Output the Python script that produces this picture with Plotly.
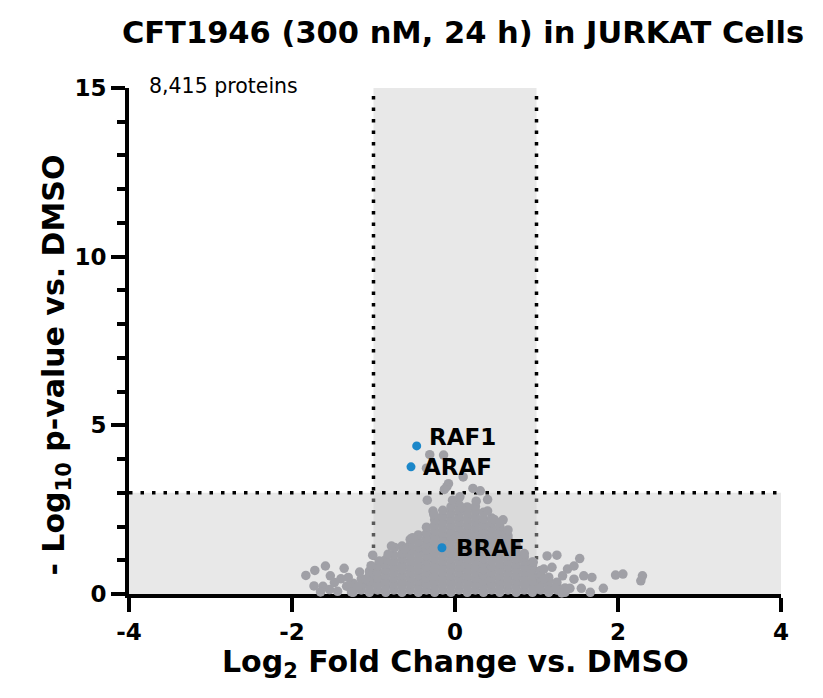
import plotly.graph_objects as go

# ---------------- data ----------------
# dense core of the cloud: column centres and the -log10 p values in each column
core_x = [-1.25, -1.15, -1.05, -0.95, -0.85, -0.75, -0.65, -0.55, -0.45, -0.35,
          -0.25, -0.15, -0.05, 0.05, 0.15, 0.25, 0.35, 0.45, 0.55, 0.65,
          0.75, 0.85, 0.95, 1.05, 1.15, 1.25, 1.35]
core_y = [
    [0.05, 0.2, 0.32],
    [0.12, 0.28, 0.45],
    [0.05, 0.22, 0.38, 0.55, 0.68],
    [0.12, 0.3, 0.47, 0.64, 0.82],
    [0.05, 0.22, 0.38, 0.55, 0.72, 0.88, 1.02],
    [0.12, 0.3, 0.47, 0.64, 0.8, 0.97, 1.15],
    [0.05, 0.22, 0.38, 0.55, 0.72, 0.88, 1.05, 1.2, 1.42],
    [0.12, 0.3, 0.47, 0.64, 0.8, 0.97, 1.14, 1.3, 1.46, 1.62],
    [0.05, 0.22, 0.38, 0.55, 0.72, 0.88, 1.05, 1.22, 1.38, 1.55, 1.75],
    [0.12, 0.3, 0.47, 0.64, 0.8, 0.97, 1.14, 1.3, 1.47, 1.64, 1.8, 1.98],
    [0.05, 0.22, 0.38, 0.55, 0.72, 0.88, 1.05, 1.22, 1.38, 1.55, 1.72, 1.88, 2.05, 2.2, 2.32],
    [0.12, 0.3, 0.47, 0.64, 0.8, 0.97, 1.14, 1.3, 1.47, 1.64, 1.8, 1.97, 2.14, 2.3, 2.48],
    [0.05, 0.22, 0.38, 0.55, 0.72, 0.88, 1.05, 1.22, 1.38, 1.55, 1.72, 1.88, 2.05, 2.22, 2.4, 2.58],
    [0.12, 0.3, 0.47, 0.64, 0.8, 0.97, 1.14, 1.3, 1.47, 1.64, 1.8, 1.97, 2.14, 2.3, 2.47, 2.64],
    [0.05, 0.22, 0.38, 0.55, 0.72, 0.88, 1.05, 1.22, 1.38, 1.55, 1.72, 1.88, 2.05, 2.22, 2.4, 2.58],
    [0.12, 0.3, 0.47, 0.64, 0.8, 0.97, 1.14, 1.3, 1.47, 1.64, 1.8, 1.97, 2.14, 2.3, 2.47, 2.6],
    [0.05, 0.22, 0.38, 0.55, 0.72, 0.88, 1.05, 1.22, 1.38, 1.55, 1.72, 1.88, 2.05, 2.22, 2.42],
    [0.12, 0.3, 0.47, 0.64, 0.8, 0.97, 1.14, 1.3, 1.47, 1.64, 1.8, 1.97, 2.12, 2.25],
    [0.05, 0.22, 0.38, 0.55, 0.72, 0.88, 1.05, 1.22, 1.38, 1.55, 1.72, 1.88, 2.0],
    [0.12, 0.3, 0.47, 0.64, 0.8, 0.97, 1.14, 1.3, 1.47, 1.62, 1.72],
    [0.05, 0.22, 0.38, 0.55, 0.72, 0.88, 1.05, 1.22, 1.35, 1.45],
    [0.12, 0.3, 0.47, 0.64, 0.8, 0.97, 1.1, 1.2],
    [0.05, 0.22, 0.38, 0.55, 0.72, 0.85, 0.95],
    [0.12, 0.3, 0.47, 0.6, 0.7],
    [0.05, 0.22, 0.38, 0.5],
    [0.12, 0.25, 0.35],
    [0.05, 0.18],
]

# scattered proteins around the core
edge_x = [-1.83, -1.72, -1.59, -1.73, -1.62, -1.53, -1.48, -1.54, -1.36, -1.31,
          -1.33, -1.17, -1.19, -1.09, -1.03, -1.01, -1.65, -1.44, -1.27, -1.40,
          -0.93, -0.82, -0.74, -0.62, -0.78, -0.52,
          -0.31, -0.14, -0.35, -0.08, -0.10, -0.13, 0.10, 0.22, 0.31, 0.40,
          0.06, -0.03, -0.34, 0.26, 0.08, 0.40, -0.27, -0.26, 0.48, 0.59,
          0.55, 0.52, 0.62, 0.65,
          0.96, 1.13, 1.25, 1.53, 1.19, 1.38, 1.46, 1.32, 1.46, 1.58,
          1.68, 1.09, 1.09, 1.23, 1.31, 1.41, 1.55, 1.66, 1.82, 1.97,
          2.06, 2.30, 2.28, 1.04]
edge_y = [0.55, 0.70, 0.83, 0.24, 0.23, 0.54, 0.34, 0.13, 0.76, 0.49,
          0.23, 0.65, 0.23, 0.44, 0.84, 1.15, 0.06, 0.08, 0.06, 0.45,
          0.98, 1.18, 1.38, 1.33, 1.42, 1.67,
          4.13, 4.12, 3.73, 3.27, 3.18, 3.10, 3.47, 3.13, 3.06, 2.80,
          2.88, 2.78, 2.78, 2.75, 2.56, 2.46, 2.46, 2.36, 2.21, 2.20,
          2.12, 1.77, 1.77, 1.90,
          0.94, 1.13, 1.15, 1.05, 0.79, 0.74, 0.83, 0.54, 0.44, 0.54,
          0.49, 0.44, 0.74, 0.17, 0.03, 0.17, 0.17, 0.05, 0.17, 0.56,
          0.59, 0.54, 0.39, 0.17]

# highlighted RAF family members
raf_names = ["RAF1", "ARAF", "BRAF"]
raf_x = [-0.47, -0.54, -0.16]
raf_y = [4.39, 3.77, 1.37]
raf_label_x = [-0.345, -0.415, -0.015]
raf_label_y = [4.66, 3.77, 1.35]

x_ticks = [-4, -2, 0, 2, 4]
y_ticks = [0, 5, 10, 15]
fc_cut = 1
p_cut = 3

# ---------------- figure ----------------
gray_x, gray_y = [], []
for cx, ys in zip(core_x, core_y):
    for yy in ys:
        gray_x.append(cx)
        gray_y.append(yy)
gray_x += edge_x
gray_y += edge_y

BOLD = "DejaVu Sans"
fig = go.Figure()
fig.add_trace(go.Scatter(x=gray_x, y=gray_y, mode="markers",
                         marker=dict(size=9.5, color="#a0a0a6", line=dict(width=0)),
                         cliponaxis=False, hoverinfo="skip", showlegend=False))
fig.add_trace(go.Scatter(x=raf_x, y=raf_y, mode="markers",
                         marker=dict(size=9, color="#1b87c9", line=dict(width=0)),
                         cliponaxis=False, showlegend=False))

dot = "3.5px,8px"
shapes = [
    dict(type="rect", xref="x", yref="y", x0=-fc_cut, x1=fc_cut, y0=0, y1=15,
         fillcolor="#e8e8e8", line=dict(width=0), layer="below"),
    dict(type="line", xref="x", yref="y", x0=-fc_cut, x1=-fc_cut, y0=0, y1=15,
         line=dict(color="black", width=3.5, dash=dot), layer="below"),
    dict(type="line", xref="x", yref="y", x0=fc_cut, x1=fc_cut, y0=0, y1=15,
         line=dict(color="black", width=3.5, dash=dot), layer="below"),
    dict(type="rect", xref="x", yref="y", x0=-4, x1=4, y0=0, y1=p_cut,
         fillcolor="rgba(203,203,203,0.44)", line=dict(width=0), layer="below"),
    dict(type="line", xref="x", yref="y", x0=-4, x1=4, y0=p_cut, y1=p_cut,
         line=dict(color="black", width=3.5, dash=dot), layer="below"),
]

annotations = []
for name, lx, ly in zip(raf_names, raf_label_x, raf_label_y):
    annotations.append(dict(x=lx, y=ly, xref="x", yref="y", text=name, showarrow=False,
                            xanchor="left", yanchor="middle",
                            font=dict(family=BOLD, size=23, color="black", weight="bold")))
annotations.append(dict(x=-3.78, y=1.003, xref="x", yref="paper", text="8,415 proteins",
                        showarrow=False, xanchor="left", yanchor="middle",
                        font=dict(family="DejaVu Sans", size=20.5, color="black")))
annotations.append(dict(x=0, y=-0.138, xref="x", yref="paper",
                        text="Log<sub>2</sub> Fold Change vs. DMSO", showarrow=False,
                        xanchor="center", yanchor="middle",
                        font=dict(family=BOLD, size=30, color="black", weight="bold")))
annotations.append(dict(x=-0.112, y=6.8, xref="paper", yref="y",
                        text="- Log<sub>10</sub> p-value vs. DMSO", showarrow=False,
                        textangle=-90, xanchor="center", yanchor="middle",
                        font=dict(family=BOLD, size=30, color="black", weight="bold")))

# page has an 8px body margin, so the figure is 16px smaller than the window
fig.update_layout(
    width=807, height=682,
    margin=dict(l=121, r=34, t=80, b=96),
    paper_bgcolor="white", plot_bgcolor="white",
    title=dict(text="CFT1946 (300 nM, 24 h) in JURKAT Cells",
               x=(463 - 8) / 807, xanchor="center", y=1 - (32 - 8) / 682, yanchor="middle",
               font=dict(family=BOLD, size=30.5, color="black", weight="bold")),
    shapes=shapes, annotations=annotations, showlegend=False,
)
fig.update_xaxes(range=[-4, 4], tickvals=x_ticks, ticktext=[str(v) for v in x_ticks],
                 showline=True, linecolor="black", linewidth=4,
                 ticks="outside", ticklen=14, tickwidth=4, tickcolor="black",
                 showgrid=False, zeroline=False, layer="below traces",
                 tickfont=dict(family=BOLD, size=23, color="black", weight="bold"))
fig.update_yaxes(range=[0, 15], tickvals=y_ticks, ticktext=[str(v) for v in y_ticks],
                 showline=True, linecolor="black", linewidth=4,
                 ticks="outside", ticklen=14, tickwidth=4, tickcolor="black",
                 minor=dict(dtick=1, ticks="outside", ticklen=8, tickwidth=4,
                            tickcolor="black", showgrid=False),
                 showgrid=False, zeroline=False, layer="below traces",
                 tickfont=dict(family=BOLD, size=23, color="black", weight="bold"))

fig.write_html("out.html")
